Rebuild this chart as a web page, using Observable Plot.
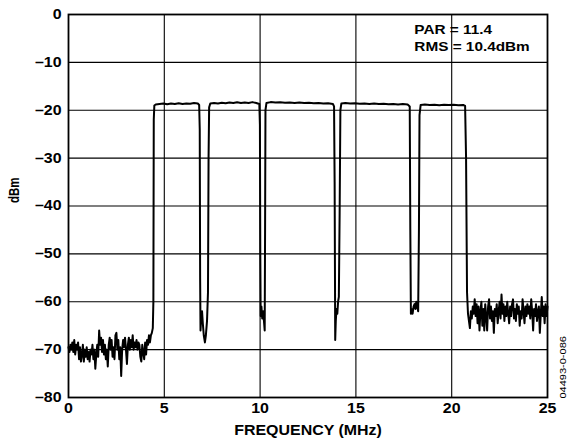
<!DOCTYPE html>
<html>
<head>
<meta charset="utf-8">
<script src="https://cdn.jsdelivr.net/npm/d3@7"></script>
<script src="https://cdn.jsdelivr.net/npm/@observablehq/plot@0.6"></script>
<style>
  html, body { margin: 0; padding: 0; background: #fff; }
  svg { display: block; }
</style>
</head>
<body>
<div id="chart"></div>
<script>
// Axis ticks / grid
const xTicks = [0, 5, 10, 15, 20, 25];
const yTicks = [0, -10, -20, -30, -40, -50, -60, -70, -80];
const xGrid = [5, 10, 15, 20];
const yGrid = [-10, -20, -30, -40, -50, -60, -70];

// Annotation text
const notes = ["PAR = 11.4", "RMS = 10.4dBm"];
const figId = "04493-0-086";

// Spectrum trace, [frequency MHz, dBm]
const noiseLeft = [
  [0.00,-69.5],[0.05,-70.5],[0.10,-69],[0.15,-70],[0.20,-68.5],[0.25,-70.5],[0.30,-68],[0.35,-71],
  [0.40,-69],[0.45,-70],[0.50,-68.5],[0.55,-72],[0.60,-69.5],[0.65,-72.5],[0.70,-71],[0.75,-69],
  [0.80,-72.5],[0.85,-70],[0.90,-71.5],[0.95,-69.5],[1.00,-72],[1.05,-70.5],[1.10,-72.5],[1.15,-70],
  [1.20,-71],[1.25,-69],[1.30,-72],[1.35,-70],[1.40,-74],[1.45,-71],[1.50,-69],[1.55,-71.5],
  [1.60,-66],[1.65,-69],[1.70,-67.5],[1.75,-70.5],[1.80,-68],[1.85,-71],[1.90,-69],[1.95,-72],
  [2.00,-70],[2.05,-73.5],[2.10,-69],[2.15,-67.5],[2.20,-70],[2.25,-68],[2.30,-71.5],[2.35,-69.5],
  [2.40,-72],[2.45,-67],[2.50,-66.5],[2.55,-70],[2.60,-68],[2.65,-72],[2.70,-69.5],[2.75,-75.5],
  [2.80,-70],[2.85,-68],[2.90,-69.5],[2.95,-67.5],[3.00,-70],[3.05,-73],[3.10,-69],[3.15,-67.5],
  [3.20,-70],[3.25,-68],[3.30,-69.5],[3.35,-67],[3.40,-70],[3.45,-68.5],[3.50,-69.5],[3.55,-68],
  [3.60,-70],[3.65,-68.5],[3.70,-69],[3.75,-71.5],[3.80,-72.5],[3.85,-69],[3.90,-70.5],[3.95,-72],
  [4.00,-68.5],[4.05,-71],[4.10,-68],[4.15,-69],[4.20,-67],[4.25,-68.5],[4.30,-67],[4.35,-66.5],
  [4.40,-65.5],[4.43,-60]
];
const channel1 = [
  [4.45,-22],[4.48,-19],[4.55,-18.8],[4.75,-18.7],[4.95,-18.6],[5.15,-18.75],[5.35,-18.6],[5.55,-18.7],
  [5.75,-18.55],[5.95,-18.7],[6.15,-18.6],[6.35,-18.65],[6.55,-18.5],[6.75,-18.6],[6.82,-18.9]
];
const gap1 = [
  [6.85,-24],[6.87,-55],[6.89,-66],[6.93,-63],[6.97,-62],[7.01,-64.5],[7.06,-67],[7.12,-68.5],
  [7.17,-67],[7.23,-64],[7.28,-58],[7.31,-30],[7.34,-19.4]
];
const channel2 = [
  [7.40,-18.6],[7.60,-18.5],[7.80,-18.6],[8.00,-18.45],[8.20,-18.55],[8.40,-18.4],[8.60,-18.5],
  [8.80,-18.35],[9.00,-18.5],[9.20,-18.4],[9.40,-18.5],[9.60,-18.3],[9.80,-18.5],[9.96,-18.7]
];
const gap2 = [
  [9.99,-23],[10.01,-50],[10.03,-63],[10.07,-61],[10.11,-63.5],[10.16,-62],[10.21,-64.5],[10.24,-66],
  [10.26,-45],[10.28,-20]
];
const channel3 = [
  [10.33,-18.5],[10.55,-18.3],[10.80,-18.4],[11.05,-18.35],[11.30,-18.45],[11.55,-18.4],[11.80,-18.5],
  [12.05,-18.4],[12.30,-18.5],[12.55,-18.45],[12.80,-18.55],[13.05,-18.5],[13.30,-18.6],[13.55,-18.55],
  [13.80,-18.7],[13.86,-19.2]
];
const gap3 = [
  [13.89,-35],[13.92,-68],[13.95,-64],[13.99,-61.5],[14.03,-62.5],[14.07,-60],[14.11,-59],[14.15,-42],
  [14.19,-20]
];
const channel4 = [
  [14.24,-18.6],[14.45,-18.5],[14.70,-18.6],[14.95,-18.55],[15.20,-18.65],[15.45,-18.6],[15.70,-18.7],
  [15.95,-18.6],[16.20,-18.7],[16.45,-18.65],[16.70,-18.75],[16.95,-18.7],[17.20,-18.8],[17.45,-18.7],
  [17.70,-18.8],[17.81,-19.2]
];
const gap4 = [
  [17.84,-45],[17.87,-62.5],[17.91,-61.5],[17.96,-62.5],[18.01,-61],[18.06,-60.5],[18.11,-61.5],
  [18.15,-60],[18.20,-61],[18.25,-62],[18.29,-45],[18.32,-21]
];
const channel5 = [
  [18.38,-18.9],[18.60,-18.8],[18.85,-18.9],[19.10,-18.85],[19.35,-18.95],[19.60,-18.85],[19.85,-18.9],
  [20.10,-18.85],[20.35,-18.95],[20.60,-18.9],[20.70,-19.1]
];
const noiseRight = [
  [20.75,-30],[20.80,-58],[20.85,-62.5],[20.90,-64],[20.95,-65.5],[21.00,-62],[21.05,-63.5],[21.10,-61],
  [21.15,-62.5],[21.20,-59.5],[21.25,-63],[21.30,-60.5],[21.35,-64.5],[21.40,-61],[21.45,-66],[21.50,-62],
  [21.55,-60],[21.60,-65],[21.65,-61.5],[21.70,-66],[21.75,-60.5],[21.80,-63],[21.85,-66],[21.90,-61],
  [21.95,-59.5],[22.00,-63.5],[22.05,-61],[22.10,-64],[22.15,-62],[22.20,-66.5],[22.25,-61.5],[22.30,-63],
  [22.35,-60.5],[22.40,-64.5],[22.45,-62],[22.50,-60],[22.55,-63.5],[22.60,-58.5],[22.65,-62.5],[22.70,-60.5],
  [22.75,-64],[22.80,-61],[22.85,-63],[22.90,-60],[22.95,-62.5],[23.00,-64.5],[23.05,-61],[23.10,-63],
  [23.15,-60.5],[23.20,-59.5],[23.25,-63.5],[23.30,-61.5],[23.35,-64],[23.40,-60.5],[23.45,-62.5],[23.50,-61],
  [23.55,-65],[23.60,-62],[23.65,-63.5],[23.70,-59.5],[23.75,-62],[23.80,-64.5],[23.85,-61],[23.90,-63],
  [23.95,-60.5],[24.00,-62.5],[24.05,-61],[24.10,-63.5],[24.15,-59.5],[24.20,-62],[24.25,-66],[24.30,-61.5],
  [24.35,-63],[24.40,-60.5],[24.45,-64],[24.50,-62],[24.55,-61],[24.60,-66.5],[24.65,-62.5],[24.70,-59],
  [24.75,-63],[24.80,-61],[24.85,-64.5],[24.90,-60.5],[24.95,-63],[25.00,-61]
];

const trace = [noiseLeft, channel1, gap1, channel2, gap2, channel3, gap3, channel4, gap4, channel5, noiseRight]
  .flat().map(([f, db]) => ({f, db}));

const font = "'Liberation Sans', Arial, Helvetica, sans-serif";

const chart = Plot.plot({
  width: 568,
  height: 445,
  marginLeft: 68,
  marginRight: 21,
  marginTop: 14,
  marginBottom: 48,
  x: {domain: [0, 25]},
  y: {domain: [-80, 0]},
  style: {fontFamily: font, fontWeight: "bold", fontSize: "14px", color: "#000", background: "#fff", overflow: "visible"},
  marks: [
    Plot.ruleX(xGrid, {stroke: "#000", strokeWidth: 1.1}),
    Plot.ruleY(yGrid, {stroke: "#000", strokeWidth: 1.1}),
    Plot.line(trace, {x: "f", y: "db", stroke: "#000", strokeWidth: 2, strokeLinejoin: "round"}),
    Plot.frame({stroke: "#000", strokeWidth: 1.8}),
    Plot.axisY(yTicks, {tickSize: 0, tickPadding: 7, label: null, fontSize: 14, fontWeight: "bold", tickFormat: d => d === 0 ? "0" : "\u2013" + Math.abs(d)}),
    Plot.axisX(xTicks, {tickSize: 0, tickPadding: 6, label: null, fontSize: 14, fontWeight: "bold"}),
    Plot.text(["dBm"], {frameAnchor: "left", dx: -54, dy: -3, rotate: -90, fontSize: 11.5, fontWeight: "bold"}),
    Plot.text(["FREQUENCY (MHz)"], {frameAnchor: "bottom", dy: 37, fontSize: 14, fontWeight: "bold"}),
    Plot.text([notes[0]], {x: 18.05, y: -3.2, textAnchor: "start", fontSize: 13, fontWeight: "bold"}),
    Plot.text([notes[1]], {x: 18.05, y: -6.8, textAnchor: "start", fontSize: 13, fontWeight: "bold"}),
    Plot.text([figId], {x: 25.8, y: -73.7, rotate: -90, fontSize: 10.5, fontWeight: "normal"})
  ]
});

// Reference type is set slightly wide: stretch each label horizontally about its anchor
chart.querySelectorAll("text").forEach(t => {
  const tr = t.getAttribute("transform");
  if (!tr) return;
  const s = t.textContent;
  let sc = "scale(1.14,1)";
  if (s === "dBm") sc = "scale(1,1.2)";
  else if (s === figId) sc = "scale(1.05,0.95)";
  else if (notes.includes(s)) sc = "scale(1.18,1)";
  t.setAttribute("transform", tr + " " + sc);
});

document.getElementById("chart").appendChild(chart);
</script>
</body>
</html>
